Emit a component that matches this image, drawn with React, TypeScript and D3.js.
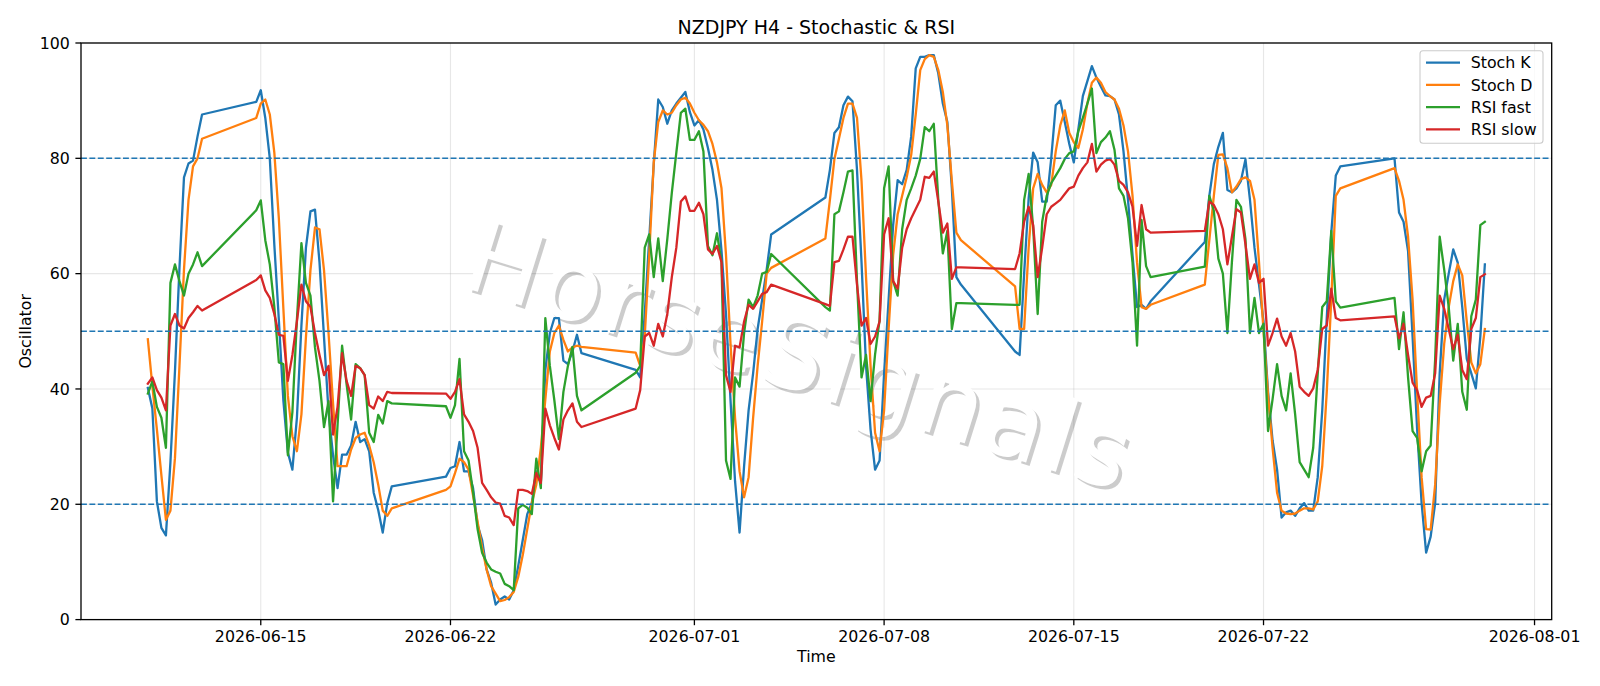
import React, { useEffect, useRef } from 'react';
import * as d3 from 'd3';

const W = 1600;
const H = 686;
const margins = { top: 43, right: 48.3, bottom: 66.4, left: 81 };

// trading sessions (4h bars, weekends skipped)
const sessions = [
    ['2026-06-10T20:00Z', '2026-06-12T20:00Z'],
    ['2026-06-14T20:00Z', '2026-06-19T20:00Z'],
    ['2026-06-21T20:00Z', '2026-06-26T20:00Z'],
    ['2026-06-28T20:00Z', '2026-07-03T20:00Z'],
    ['2026-07-05T20:00Z', '2026-07-10T20:00Z'],
    ['2026-07-12T20:00Z', '2026-07-17T20:00Z'],
    ['2026-07-19T20:00Z', '2026-07-24T20:00Z'],
    ['2026-07-26T20:00Z', '2026-07-30T04:00Z']
];

const stochK = [
    40.2, 36.6, 20.5, 15.9, 14.6, 27.3, 43, 61, 76.7, 79.1, 79.6, 83.8, 87.6,
    89.8, 91.8, 87, 80, 65, 52, 38, 29, 26, 35, 51, 64.5, 70.8, 71.1, 62, 49, 36, 28.5, 22.8, 28.6, 28.6, 30.2, 34.3, 30.8, 31.3, 29.2, 22, 19, 15.1, 20.2, 23.1,
    24.8, 26.3, 26.6, 30.8, 25.7, 25.7, 22.8, 16.4, 13.8, 8.7, 6.4, 2.6, 3.5, 4, 3.5, 5.1, 9.3, 13.8, 18.3, 20.2, 25.7, 23.7, 43.3, 49.7, 52.3, 52.3, 44.9, 44.3, 46.5, 49.4, 46.2,
    43.3, 42, 53, 66, 79, 90.2, 88.9, 86, 88.3, 89.5, 90.5, 91.5, 88, 85.7, 86.6, 85, 81.8, 78, 72.8, 64, 53, 38, 24, 15.1, 26.6, 36.3, 42.7, 50.4, 55.5, 60.7, 66.8,
    73.2, 78, 84.4, 85.4, 89.2, 90.7, 89.9, 78, 62, 44, 33, 26, 27.6, 42.7, 55.5, 68.4, 76.2, 75.5, 78, 83.8, 95.6, 97.6, 97.6, 97.9, 97.9, 94.7, 89.5, 86.3, 74.8, 59.4, 58.1,
    46.5, 45.9, 60, 73, 81, 79.3, 72.5, 72.5, 80, 89.2, 90, 86.3, 82.5, 79.3, 85, 90.8, 93.4, 96, 94, 92.4, 90.9, 90.8, 90.2, 87.6, 81.2, 72.8, 63.2, 54.2, 54.6, 53.9, 55.2,
    65.5, 73.5, 79, 82, 84.4, 74.5, 74.1, 74.8, 76.1, 79.8, 72.8, 64.5, 58.1, 51.7, 39.5, 31.1, 26, 17.7, 18.6, 18.9, 18, 19.3, 20.2, 18.9, 18.9, 24.7, 36.3, 52.3, 67.1, 77, 78.6,
    80, 70.6, 69, 63.9, 49.1, 33.1, 20.2, 11.6, 14.4, 20.2, 42.7, 55.5, 60, 64.2, 61.9, 54.2, 45.2, 42.7, 40.1, 49.1, 61.6
];

const stochD = [
    48.6, 40.5, 33, 25, 17.3, 18.9, 28, 44, 60.7, 72.8, 78.6, 80, 83.4,
    87, 89.5, 90.2, 87.6, 81, 69.6, 54, 38.8, 31.8, 29.2, 35.6, 49, 60.6, 68, 67.7, 60.6, 49.7, 37.5, 26.6, 26.6, 26.6, 29.5, 31.5, 32.1, 32.4, 30.2, 27.3, 23.4, 18.9, 18, 19.3,
    22.5, 23.1, 25.4, 27.9, 27.3, 26, 21.5, 17, 12.5, 8.7, 5.8, 4.5, 3.2, 3.4, 3.9, 4.8, 7.4, 11.2, 15.7, 20.2, 23.4, 29.8, 38.2, 46.5, 49.7, 51, 48.5, 46.5, 47.2, 47.5, 47.3,
    46.3, 44, 49.1, 63.2, 79.3, 86.3, 88.3, 87.6, 87.9, 89.2, 90.2, 90.5, 89.5, 87.9, 86.6, 85.8, 84.7, 82.5, 79.3, 74.8, 63.2, 47.8, 35, 25.7, 21.2, 24.7, 35, 44, 51.7, 60, 61,
    66.1, 72.8, 79.9, 83.4, 87, 89.5, 89.5, 87, 76.1, 59.4, 44, 32.4, 29.2, 36.3, 50.4, 63.2, 70.3, 73.5, 76.7, 80.6, 87.6, 95.3, 97.2, 97.9, 97.6, 95.3, 91.5, 85.7, 76.1, 67.1, 65.8,
    57.8, 50.4, 50.4, 64.5, 74.8, 77.3, 75.4, 74.1, 75.4, 81.2, 85.7, 88.3, 84.4, 82.8, 81.8, 85, 89.5, 93.1, 94, 93.1, 91.5, 90.8, 90.2, 88.6, 85.7, 81.2, 73.5, 61.9, 54.2, 53.9, 54.6,
    58.1, 65.8, 73.5, 80.6, 80.7, 78.3, 74.1, 75.1, 76.4, 76.7, 76.1, 72.8, 62, 50, 39, 29.8, 22, 18.9, 18.4, 18.3, 18.4, 18.9, 19.3, 19.3, 19.1, 20.5, 26.6, 39.5, 55.5, 73.5, 74.8,
    78.3, 76.1, 72.8, 66.4, 55.5, 39.5, 24.7, 15.7, 15.6, 23.4, 37.5, 47.8, 54.2, 58.7, 61.6, 59.7, 51.7, 44.6, 42.7, 44.3, 50.4
];

const rsiFast = [
    39.2, 41.3, 36.9, 35, 29.8, 58.4, 61.6, 58.7, 56.2, 60, 61.6, 63.7, 61.3,
    71, 72.7, 65.8, 61.6, 54.2, 44.6, 44.3, 28.5, 36, 52, 65.3, 58.4, 56.2, 47.2, 41.4, 33.4, 37.9, 20.5, 33.7, 47.5, 40.8, 34.7, 44.3, 43.6, 42.4, 32.4, 30.8, 35.5, 34, 37.9, 37.5,
    37, 35, 37.2, 45.2, 29.2, 27.6, 22.1, 15.7, 11.6, 9.9, 8.7, 8.3, 8, 6.2, 5.8, 5.1, 19.3, 19.9, 19.4, 18.3, 27.9, 22.8, 52.3, 44, 38, 31.3, 39.5, 44, 47.3, 38.8, 36.3,
    42.8, 44, 64.5, 66.8, 59.4, 66.1, 58.7, 66, 74, 81, 87.9, 88.6, 83.2, 83.2, 84.7, 81.2, 64.8, 63.2, 67, 62, 27.6, 24.4, 42, 40.4, 49.7, 55.5, 54.2, 56.2, 60, 60.3, 63.4,
    54.2, 53.6, 70.3, 70.8, 74.1, 77.7, 77.9, 58.7, 42, 45.9, 37.9, 46, 52, 74.8, 78.6, 58.7, 56.2, 67.7, 72.8, 74.8, 77, 79.9, 85.4, 84.7, 86, 72.8, 63.5, 67.4, 50.4, 54.9, 54.9,
    54.6, 54.6, 72.8, 77.3, 68, 53, 69, 73.5, 75.7, 77, 78.3, 79.9, 80.9, 81.2, 84.7, 87, 89.5, 92.1, 80.9, 82.8, 83.6, 84.7, 81.5, 74.8, 73.5, 69.6, 61.9, 47.5, 69.3, 61.3, 59.4,
    61.2, 73.5, 70.9, 62.6, 60, 49.7, 62, 72.8, 71.6, 66, 49.7, 55.8, 49.7, 51.3, 32.7, 38.2, 44.3, 38.8, 36.3, 42.7, 35.6, 27.3, 26, 24.7, 29.8, 42.7, 54.2, 55.2, 67.4, 55.2, 54.1,
    55.8, 46.9, 53.3, 42, 32.7, 31.5, 25.7, 29.2, 30.2, 45.2, 66.4, 60.7, 54.2, 44.9, 51.3, 39.5, 36.4, 52.6, 55.5, 68.4, 69
];

const rsiSlow = [
    40.9, 42, 39.8, 38.5, 36.3, 51, 53, 51, 50.5, 52.3, 53.3, 54.4, 53.6,
    58.9, 59.7, 57.1, 55.8, 53, 49.4, 49.2, 41.4, 45.9, 51.7, 58.1, 55.2, 54.2, 49.7, 45.9, 42.4, 44, 32.1, 36.9, 46.2, 41.4, 38.8, 44, 43.6, 42.4, 37.2, 36.6, 38.7, 37.9, 39.5, 39.3,
    39.2, 38.3, 39.5, 41.7, 35.6, 34.3, 32.7, 29.8, 23.7, 22.5, 21.2, 20.3, 20.1, 18, 17.7, 16.4, 22.5, 22.5, 22.3, 21.8, 25.4, 23.7, 36.6, 33.7, 31.5, 29.5, 34.7, 36.3, 37.5, 34.3, 33.4,
    36.6, 39.8, 49.1, 49.7, 47.5, 51.3, 49.1, 53, 59.4, 64.5, 72.5, 73.4, 70.9, 70.9, 72.3, 70.3, 64.2, 63.4, 64.8, 62, 42.4, 39.5, 47.5, 47.2, 51.7, 54.6, 53.9, 55.2, 56.5, 56.8, 58.1,
    54.7, 54.4, 62, 62.2, 64.2, 66.4, 66.4, 58.1, 51, 52.3, 47.8, 49.1, 51.7, 66.8, 69.6, 58.7, 57.4, 64.5, 67.7, 69.6, 71.2, 72.8, 76.8, 76.6, 77.7, 72.5, 67.1, 68.7, 59.1, 61.1, 61.1,
    60.8, 63.5, 69, 71.6, 68.4, 59.4, 64.5, 70.3, 71.6, 72.2, 72.8, 73.8, 74.8, 75.1, 77, 78.3, 79.3, 82.5, 77.7, 78.9, 79.6, 79.9, 78.9, 76.1, 75.4, 74.1, 71.6, 64.8, 71.9, 67.7, 67.1,
    67.4, 72.5, 71.9, 70.3, 67.7, 61.6, 66.4, 71.2, 70.6, 65.1, 59.1, 61.6, 58.4, 59.1, 47.5, 49.7, 52.2, 49.1, 47.5, 49.7, 46.5, 40.4, 39.5, 38.8, 40.1, 43.3, 50.4, 51, 57.4, 52.3, 51.9,
    52.6, 48.8, 51.3, 45.9, 41.1, 39.8, 36.9, 38.5, 38.8, 42.7, 56.2, 53.9, 50.4, 46.9, 49.4, 43.3, 41.7, 50.4, 52.3, 59.4, 59.9
];

const seriesNames = ['Stoch K', 'Stoch D', 'RSI fast', 'RSI slow'];
const seriesColors = ['#1f77b4', '#ff7f0e', '#2ca02c', '#d62728'];
const levels = [20, 50, 80];
const yTicks = [0, 20, 40, 60, 80, 100];
const xTickDates = ['2026-06-15', '2026-06-22', '2026-07-01', '2026-07-08', '2026-07-15', '2026-07-22', '2026-08-01'];

const font = 'DejaVu Sans, sans-serif';

export default function App() {
    const ref = useRef<SVGSVGElement>(null);

    useEffect(() => {
        const svg = d3.select(ref.current);
        svg.selectAll('*').remove();

        // build the time index from the sessions
        const times: Date[] = [];
        sessions.forEach(([s, e]) => {
            const start = new Date(s);
            const end = new Date(e);
            d3.utcHour.every(4)!.range(start, new Date(+end + 1)).forEach(t => times.push(t));
        });

        const t0 = +times[0];
        const t1 = +times[times.length - 1];
        const pad = (t1 - t0) * 0.05;

        const x = d3.scaleUtc()
            .domain([new Date(t0 - pad), new Date(t1 + pad)])
            .range([margins.left, W - margins.right]);
        const y = d3.scaleLinear()
            .domain([0, 100])
            .range([H - margins.bottom, margins.top]);

        const xTicks = xTickDates.map(d => new Date(d + 'T00:00Z'));
        const [x0, x1] = x.range();
        const [yb, yt] = y.range();

        svg.append('rect').attr('width', W).attr('height', H).attr('fill', 'white');

        // grid
        const grid = svg.append('g').attr('stroke', '#b0b0b0').attr('stroke-opacity', 0.3).attr('stroke-width', 1.1);
        xTicks.forEach(t => {
            grid.append('line').attr('x1', x(t)).attr('x2', x(t)).attr('y1', yt).attr('y2', yb);
        });
        yTicks.forEach(v => {
            grid.append('line').attr('x1', x0).attr('x2', x1).attr('y1', y(v)).attr('y2', y(v));
        });

        // watermark: white text with a soft grey drop shadow
        const wmShadow = svg.append('g').attr('transform', 'translate(792,392) rotate(17.3)');
        wmShadow.append('text')
            .attr('text-anchor', 'middle')
            .attr('font-family', font)
            .attr('font-size', 100)
            .attr('textLength', 690)
            .attr('lengthAdjust', 'spacing')
            .attr('fill', '#000')
            .attr('fill-opacity', 0.2)
            .text('HorseSignals');
        const wm = svg.append('g').attr('transform', 'translate(788.5,388.5) rotate(17.3)');
        wm.append('text')
            .attr('text-anchor', 'middle')
            .attr('font-family', font)
            .attr('font-size', 100)
            .attr('textLength', 690)
            .attr('lengthAdjust', 'spacing')
            .attr('fill', 'white')
            .text('HorseSignals');

        // series
        const data = [stochK, stochD, rsiFast, rsiSlow];
        const line = d3.line<number>()
            .x((d, i) => x(times[i]))
            .y(d => y(d));
        data.forEach((vals, k) => {
            svg.append('path')
                .attr('d', line(vals))
                .attr('fill', 'none')
                .attr('stroke', seriesColors[k])
                .attr('stroke-width', 2.3)
                .attr('stroke-linejoin', 'round')
                .attr('stroke-linecap', 'square');
        });

        // level lines
        levels.forEach(v => {
            svg.append('line')
                .attr('x1', x0).attr('x2', x1)
                .attr('y1', y(v)).attr('y2', y(v))
                .attr('stroke', '#1f77b4')
                .attr('stroke-width', 1.5)
                .attr('stroke-dasharray', '5.9,2.5');
        });

        // spines
        svg.append('rect')
            .attr('x', x0).attr('y', yt)
            .attr('width', x1 - x0).attr('height', yb - yt)
            .attr('fill', 'none').attr('stroke', 'black').attr('stroke-width', 1.3);

        // ticks
        const ticks = svg.append('g').attr('font-family', font).attr('font-size', 15.8).attr('fill', 'black');
        xTicks.forEach(t => {
            ticks.append('line').attr('x1', x(t)).attr('x2', x(t)).attr('y1', yb).attr('y2', yb + 5.6)
                .attr('stroke', 'black').attr('stroke-width', 1.3);
            ticks.append('text').attr('x', x(t)).attr('y', yb + 22.2)
                .attr('text-anchor', 'middle').text(d3.utcFormat('%Y-%m-%d')(t));
        });
        yTicks.forEach(v => {
            ticks.append('line').attr('x1', x0 - 5.6).attr('x2', x0).attr('y1', y(v)).attr('y2', y(v))
                .attr('stroke', 'black').attr('stroke-width', 1.3);
            ticks.append('text').attr('x', x0 - 11.2).attr('y', y(v) + 5.7)
                .attr('text-anchor', 'end').text(v);
        });

        // labels
        svg.append('text')
            .attr('x', (x0 + x1) / 2).attr('y', 33.5)
            .attr('text-anchor', 'middle')
            .attr('font-family', font).attr('font-size', 19)
            .text('NZDJPY H4 - Stochastic & RSI');
        svg.append('text')
            .attr('x', (x0 + x1) / 2).attr('y', 662)
            .attr('text-anchor', 'middle')
            .attr('font-family', font).attr('font-size', 15.8)
            .text('Time');
        svg.append('text')
            .attr('transform', `translate(31,${(yt + yb) / 2}) rotate(-90)`)
            .attr('text-anchor', 'middle')
            .attr('font-family', font).attr('font-size', 15.8)
            .text('Oscillator');

        // legend
        const legend = svg.append('g');
        legend.append('rect')
            .attr('x', 1420).attr('y', 50.7)
            .attr('width', 123).attr('height', 92.5)
            .attr('rx', 3)
            .attr('fill', 'white').attr('fill-opacity', 0.8)
            .attr('stroke', '#cccccc').attr('stroke-width', 1.1);
        seriesNames.forEach((name, k) => {
            const ry = 62.7 + k * 22.2;
            legend.append('line')
                .attr('x1', 1426).attr('x2', 1460)
                .attr('y1', ry).attr('y2', ry)
                .attr('stroke', seriesColors[k]).attr('stroke-width', 2.3);
            legend.append('text')
                .attr('x', 1470.7).attr('y', ry + 5.6)
                .attr('font-family', font).attr('font-size', 15.8)
                .text(name);
        });
    }, []);

    return (
        <div>
            <style>{'body{margin:0;overflow:hidden}'}</style>
            <svg ref={ref} width={W} height={H} />
        </div>
    );
}
